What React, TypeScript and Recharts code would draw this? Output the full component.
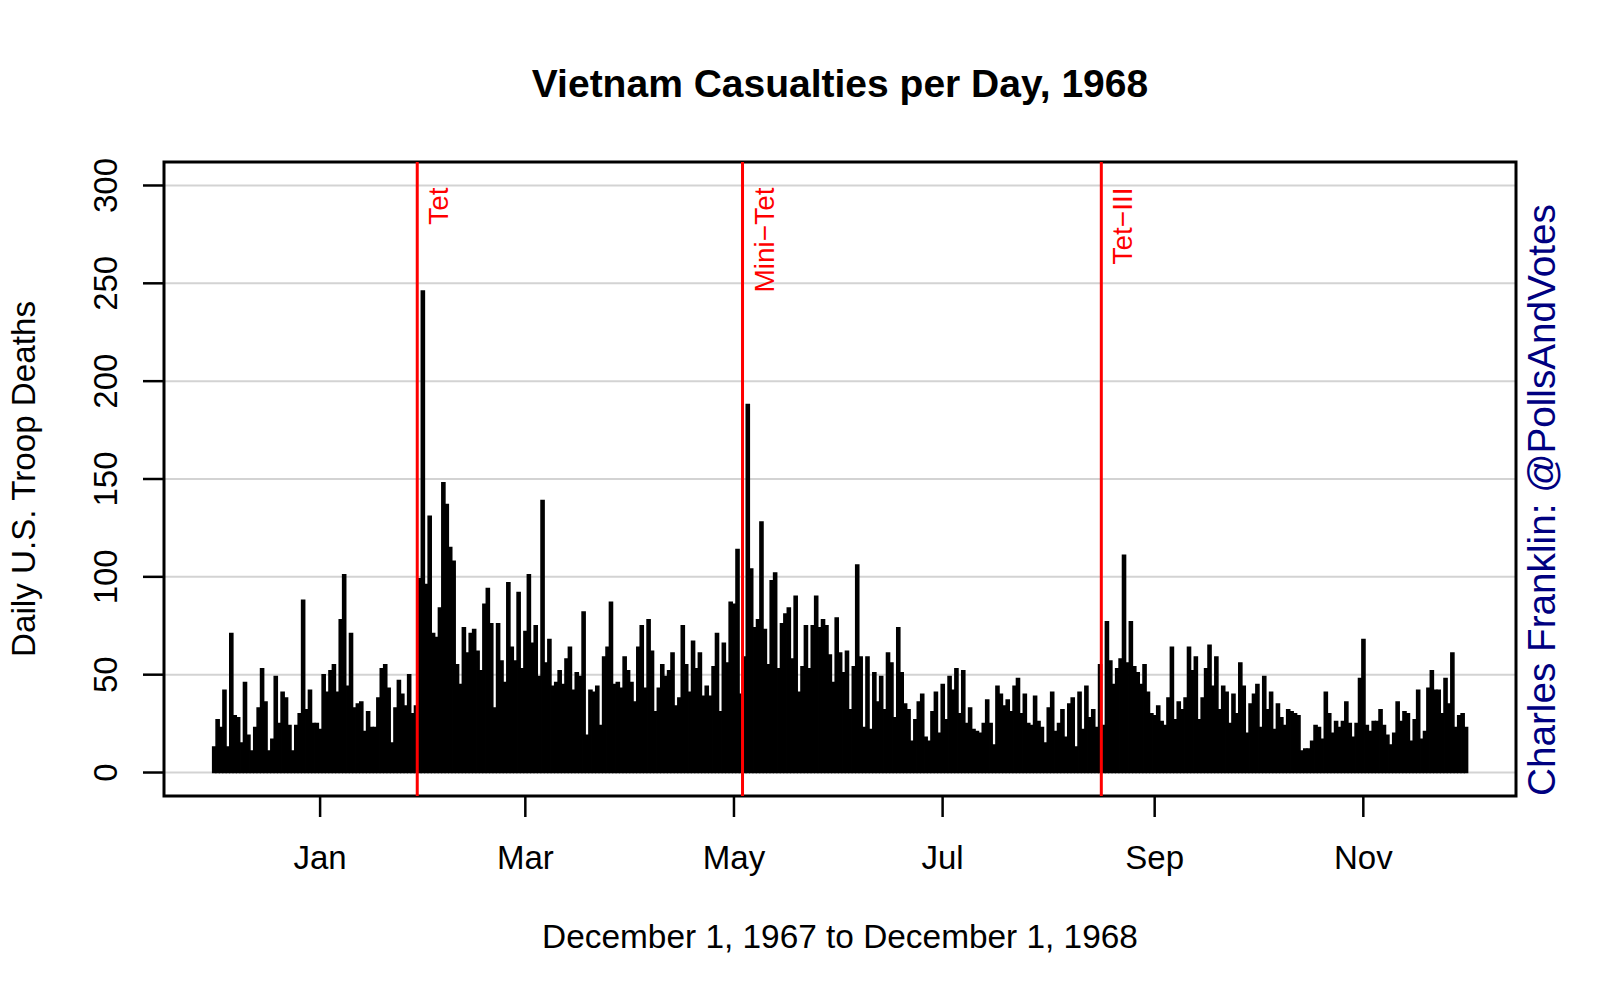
import { Bar, BarChart, CartesianGrid, ReferenceArea, ReferenceLine, XAxis, YAxis } from 'recharts';

// daily U.S. troop deaths, one array per month
const dec67 = [13, 27, 23, 42, 13, 71, 29, 28, 15, 46, 19, 11, 23, 33, 53, 36, 11, 17, 49, 25, 41, 38, 24, 11, 24, 30, 88, 32, 42, 25, 25];
const jan68 = [22, 50, 41, 52, 55, 41, 78, 101, 44, 71, 33, 35, 36, 21, 31, 23, 23, 38, 53, 55, 43, 15, 33, 47, 40, 34, 50, 30, 34, 99, 246];
const feb68 = [96, 131, 71, 69, 84, 148, 137, 115, 108, 55, 45, 74, 61, 71, 73, 62, 52, 86, 94, 76, 33, 76, 57, 46, 97, 64, 57, 92, 53];
const mar68 = [72, 101, 66, 75, 49, 139, 56, 68, 44, 46, 52, 45, 58, 64, 42, 51, 49, 82, 19, 42, 41, 44, 24, 59, 64, 87, 45, 46, 43, 59, 52];
const apr68 = [46, 36, 64, 75, 43, 78, 62, 31, 43, 55, 49, 52, 61, 34, 38, 75, 55, 41, 67, 53, 61, 39, 44, 39, 54, 71, 31, 66, 56, 87];
const may68 = [86, 114, 40, 59, 188, 104, 74, 78, 128, 73, 55, 98, 102, 53, 76, 81, 84, 58, 90, 41, 54, 75, 53, 75, 90, 74, 78, 75, 60, 46, 79];
const jun68 = [61, 51, 62, 32, 54, 106, 59, 23, 59, 22, 51, 36, 49, 32, 61, 56, 28, 74, 51, 35, 32, 16, 27, 36, 40, 18, 16, 31, 41, 20];
const jul68 = [45, 27, 49, 42, 53, 30, 52, 25, 33, 22, 21, 20, 25, 37, 25, 14, 44, 40, 34, 37, 31, 44, 48, 30, 40, 25, 24, 39, 26, 23, 15];
const aug68 = [33, 41, 21, 25, 32, 18, 35, 38, 13, 41, 22, 44, 28, 32, 23, 55, 24, 77, 57, 45, 53, 58, 111, 56, 77, 54, 51, 45, 55, 41, 30];
const sep68 = [29, 34, 26, 24, 38, 64, 27, 36, 32, 38, 64, 52, 59, 27, 38, 53, 65, 44, 59, 32, 44, 41, 25, 40, 30, 56, 44, 20, 35, 40];
const oct68 = [45, 23, 49, 32, 41, 22, 35, 28, 24, 32, 31, 30, 29, 11, 12, 12, 16, 24, 23, 17, 41, 30, 20, 26, 23, 26, 36, 25, 18, 25, 48];
const nov68 = [68, 24, 21, 26, 26, 32, 24, 19, 14, 20, 36, 26, 31, 30, 16, 27, 42, 17, 21, 43, 52, 42, 42, 30, 48, 35, 61, 23, 29, 30];
const dec68 = [23];

// day index 0 = December 1, 1967
const monthTicks = [31, 91, 152, 213, 275, 336];
const monthLabels = ['Jan', 'Mar', 'May', 'Jul', 'Sep', 'Nov'];
const yTicks = [0, 50, 100, 150, 200, 250, 300];
const eventDays = [59.4, 154.5, 259.4];
const eventNames = ['Tet', 'Mini\u2212Tet', 'Tet\u2212III'];

const deaths = [...dec67, ...jan68, ...feb68, ...mar68, ...apr68, ...may68, ...jun68, ...jul68, ...aug68, ...sep68, ...oct68, ...nov68, ...dec68];
const data = deaths.map((d, i) => ({ day: i, deaths: d }));

const xDomain = [-14.64, 380.64];
const yDomain = [-12, 312];
const FONT = '"Liberation Sans", Arial, Helvetica, sans-serif';

function XTick({ x, payload }: any) {
  const label = monthLabels[monthTicks.indexOf(payload.value)];
  return (
    <text x={x} y={869} textAnchor="middle" fontSize={33} fontFamily={FONT} fill="#000">
      {label}
    </text>
  );
}

function YTick({ y, payload }: any) {
  return (
    <text transform={`translate(117, ${y}) rotate(-90)`} textAnchor="middle" fontSize={33} fontFamily={FONT} fill="#000">
      {payload.value}
    </text>
  );
}

function eventLabel(name: string) {
  return (props: any) => {
    const vb = props.viewBox || {};
    const top = vb.y + (vb.height * (yDomain[1] - 300)) / (yDomain[1] - yDomain[0]);
    return (
      <text
        transform={`translate(${vb.x + 31}, ${top + 2}) rotate(-90)`}
        textAnchor="end"
        fontSize={28}
        fontFamily={FONT}
        fill="#ff0000"
      >
        {name}
      </text>
    );
  };
}

export default function App() {
  return (
    <div style={{ position: 'absolute', left: 0, top: 0, width: 1600, height: 1000, background: '#fff' }}>
      <BarChart width={1600} height={1000} data={data} margin={{ top: 162, right: 84, bottom: 144, left: 0 }}>
        <CartesianGrid vertical={false} stroke="#d3d3d3" strokeWidth={2} />
        <XAxis
          dataKey="day"
          type="number"
          domain={xDomain}
          ticks={monthTicks}
          interval={0}
          height={60}
          axisLine={false}
          tickSize={21}
          tickLine={{ stroke: '#000', strokeWidth: 2.5 }}
          tick={<XTick />}
        />
        <YAxis
          type="number"
          domain={yDomain}
          ticks={yTicks}
          interval={0}
          width={164}
          axisLine={false}
          tickSize={21}
          tickLine={{ stroke: '#000', strokeWidth: 2.5 }}
          tick={<YTick />}
        />
        <Bar dataKey="deaths" fill="#000" stroke="#000" strokeWidth={1.6} isAnimationActive={false} />
        {eventDays.map((d, i) => (
          <ReferenceLine key={eventNames[i]} x={d} stroke="#ff0000" strokeWidth={3} label={eventLabel(eventNames[i])} />
        ))}
        <ReferenceArea x1={xDomain[0]} x2={xDomain[1]} y1={yDomain[0]} y2={yDomain[1]} fill="none" stroke="#000" strokeWidth={3} />
      </BarChart>
      <svg width={1600} height={1000} style={{ position: 'absolute', left: 0, top: 0, pointerEvents: 'none' }}>
        <text x={840} y={97} textAnchor="middle" fontSize={39} fontWeight="bold" fontFamily={FONT} fill="#000">
          Vietnam Casualties per Day, 1968
        </text>
        <text x={840} y={948} textAnchor="middle" fontSize={33.4} fontFamily={FONT} fill="#000">
          December 1, 1967 to December 1, 1968
        </text>
        <text transform="translate(35, 479) rotate(-90)" textAnchor="middle" fontSize={33.2} fontFamily={FONT} fill="#000">
          Daily U.S. Troop Deaths
        </text>
        <text transform="translate(1555, 796) rotate(-90)" textAnchor="start" fontSize={38.7} fontFamily={FONT} fill="#000080">
          Charles Franklin: @PollsAndVotes
        </text>
      </svg>
    </div>
  );
}
